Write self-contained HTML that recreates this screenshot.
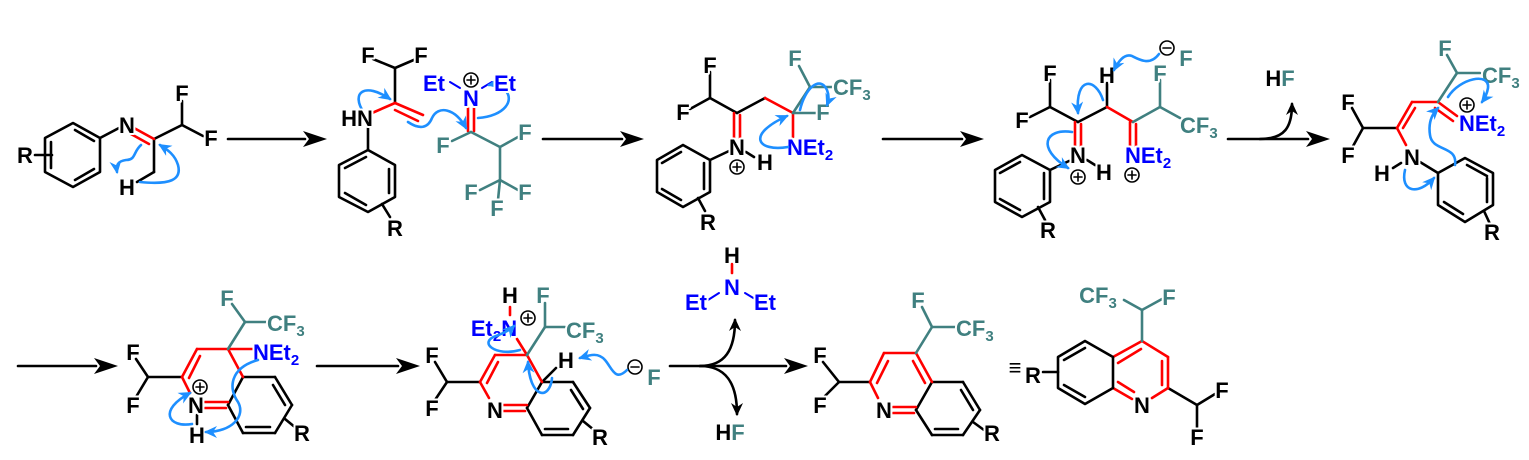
<!DOCTYPE html>
<html><head><meta charset="utf-8"><style>
html,body{margin:0;padding:0;background:#fff;}
svg{display:block;}
text{font-family:"Liberation Sans",Arial,sans-serif;font-weight:bold;font-size:22px;text-anchor:middle;paint-order:stroke;stroke:#fff;stroke-width:4px;transform:translateY(2px);}
.k{fill:#000}.b{fill:#0000ff}.t{fill:#408080}
.s{font-size:15px}
</style></head><body>
<svg width="1529" height="460" viewBox="0 0 1529 460" xmlns="http://www.w3.org/2000/svg">
<defs>
<marker id="bh" markerUnits="userSpaceOnUse" markerWidth="14" markerHeight="12" refX="11" refY="6" orient="auto"><path d="M0,0 L13,6 L0,12 L4,6 z" fill="#1e8fff"/></marker>
<marker id="kh" markerUnits="userSpaceOnUse" markerWidth="14" markerHeight="12" refX="11" refY="6" orient="auto"><path d="M0,0 L13,6 L0,12 L4,6 z" fill="#000"/></marker>
</defs>
<g stroke-width="2.6" fill="none" stroke-linecap="round" stroke-linejoin="round">
<!-- reaction arrows -->
<g stroke="#000">
<line x1="228" y1="139" x2="305" y2="139"/>
<line x1="543" y1="139" x2="622" y2="139"/>
<line x1="883" y1="139" x2="962" y2="139"/>
<line x1="1228" y1="139" x2="1308" y2="139"/>
<path d="M1260,139 C1285,139 1292,127 1292,104" marker-end="url(#kh)"/>
<line x1="18" y1="366" x2="96" y2="366"/>
<line x1="317" y1="366" x2="398" y2="366"/>
<line x1="670" y1="366" x2="786" y2="366"/>
<path d="M700,366 C725,366 735,350 735,320" marker-end="url(#kh)"/>
<path d="M700,366 C725,366 737,382 737,414" marker-end="url(#kh)"/>
</g>
<g fill="#000" stroke="none">
<polygon points="327,139 303,131 309,139 303,147"/>
<polygon points="644,139 620,131 626,139 620,147"/>
<polygon points="984,139 960,131 966,139 960,147"/>
<polygon points="1330,139 1306,131 1312,139 1306,147"/>
<polygon points="118,366 94,358 100,366 94,374"/>
<polygon points="420,366 396,358 402,366 396,374"/>
<polygon points="808,366 784,358 790,366 784,374"/>
</g>

<!-- MOL 1 -->
<g stroke="#000">
<path d="M73,123 L100,138 L100,172 L73,187 L45,172 L45,138 Z"/>
<line x1="75" y1="130" x2="94" y2="141"/><line x1="94" y1="169" x2="75" y2="180"/><line x1="51" y1="142" x2="51" y2="168"/>
<line x1="35" y1="155" x2="52" y2="155"/>
<line x1="100" y1="138" x2="119" y2="128"/>
<line x1="154" y1="139" x2="182" y2="125"/><line x1="182" y1="125" x2="182" y2="101"/><line x1="182" y1="125" x2="203" y2="136"/>
<line x1="154" y1="139" x2="154" y2="172"/><line x1="154" y1="172" x2="137" y2="182"/>
</g>
<g stroke="#f00"><line x1="134" y1="128" x2="154" y2="139"/><line x1="131" y1="134" x2="149" y2="144"/></g>
<g stroke="#1e8fff">
<path d="M141,145 C133,152 136,160 126,160 C118,161 116,165 117,172" marker-end="url(#bh)"/>
<path d="M140,182 C170,185 182,180 178,165 C175,155 168,150 160,145" marker-end="url(#bh)"/>
</g>
<text x="25" y="161" class="k">R</text><text x="127" y="131" class="k">N</text>
<text x="182" y="99" class="k">F</text><text x="211" y="144" class="k">F</text><text x="127" y="193" class="k">H</text>

<!-- MOL 2 -->
<g stroke="#000">
<line x1="373" y1="59" x2="395" y2="68"/><line x1="416" y1="59" x2="395" y2="68"/><line x1="395" y1="68" x2="395" y2="103"/>
<line x1="368" y1="127" x2="368" y2="150"/>
<path d="M368,150 L395,165 L395,197 L368,212 L339,197 L339,165 Z"/>
<line x1="389" y1="169" x2="389" y2="193"/><line x1="366" y1="205" x2="345" y2="193"/><line x1="345" y1="168" x2="366" y2="157"/>
<line x1="382" y1="204" x2="390" y2="217"/>
</g>
<g stroke="#f00"><line x1="372" y1="113" x2="395" y2="103"/><line x1="395" y1="103" x2="423" y2="115"/><line x1="395" y1="110" x2="418" y2="121"/>
<line x1="468" y1="108" x2="468" y2="131"/><line x1="474" y1="108" x2="474" y2="131"/></g>
<g stroke="#00f" stroke-width="2"><line x1="450" y1="82" x2="460" y2="88"/><line x1="482" y1="88" x2="492" y2="82"/></g>
<g stroke="#408080">
<line x1="471" y1="132" x2="452" y2="141"/><line x1="471" y1="132" x2="500" y2="147"/><line x1="500" y1="147" x2="518" y2="137"/>
<line x1="500" y1="147" x2="500" y2="180"/><line x1="500" y1="180" x2="480" y2="190"/><line x1="500" y1="180" x2="518" y2="190"/><line x1="500" y1="180" x2="498" y2="200"/>
</g>
<g stroke="#1e8fff">
<path d="M364,113 C350,92 365,82 390,99" marker-end="url(#bh)"/>
<path d="M408,122 C420,130 428,128 432,118 C438,105 455,108 466,128" marker-end="url(#bh)"/>
<path d="M478,118 C505,116 515,100 505,90 C500,85 494,84 489,85" marker-end="url(#bh)"/>
</g>
<text x="368" y="61" class="k">F</text><text x="421" y="61" class="k">F</text><text x="357" y="124" class="k">HN</text><text x="395" y="234" class="k">R</text>
<text x="434" y="89" class="b">Et</text><text x="471" y="104" class="b">N</text><text x="505" y="89" class="b">Et</text>
<g fill="#fff" stroke="#000" stroke-width="1.6"><circle cx="471" cy="80" r="7"/><line x1="467" y1="80" x2="475" y2="80"/><line x1="471" y1="76" x2="471" y2="84"/></g>
<text x="443" y="151" class="t">F</text><text x="525" y="138" class="t">F</text><text x="471" y="198" class="t">F</text><text x="525" y="198" class="t">F</text><text x="497" y="214" class="t">F</text>

<!-- MOL 3 -->
<g stroke="#000">
<line x1="710" y1="72" x2="710" y2="98"/><line x1="690" y1="109" x2="710" y2="98"/><line x1="710" y1="98" x2="737" y2="113"/><line x1="737" y1="113" x2="765" y2="98"/>
<path d="M683,145 L710,160 L710,192 L683,207 L657,192 L657,160 Z"/>
<line x1="704" y1="163" x2="704" y2="189"/><line x1="681" y1="200" x2="662" y2="189"/><line x1="662" y1="163" x2="681" y2="152"/>
<line x1="710" y1="160" x2="729" y2="151"/><line x1="746" y1="152" x2="754" y2="157"/><line x1="698" y1="198" x2="705" y2="211"/>
</g>
<g stroke="#f00"><line x1="734" y1="113" x2="734" y2="138"/><line x1="740" y1="115" x2="740" y2="138"/><line x1="765" y1="98" x2="793" y2="113"/><line x1="793" y1="113" x2="793" y2="137"/></g>
<g stroke="#408080"><line x1="793" y1="113" x2="810" y2="87"/><line x1="799" y1="66" x2="810" y2="87"/><line x1="810" y1="87" x2="832" y2="87"/><line x1="793" y1="113" x2="816" y2="113"/></g>
<text x="710" y="71" class="k">F</text><text x="683" y="118" class="k">F</text><text x="737" y="153" class="k">N</text><text x="765" y="168" class="k">H</text><text x="708" y="228" class="k">R</text>
<text x="795" y="64" class="t">F</text><text x="823" y="118" class="t">F</text>
<text x="833" y="93" class="t" style="text-anchor:start">CF<tspan class="s" dy="5">3</tspan></text>
<text x="787" y="153" class="b" style="text-anchor:start">NEt<tspan class="s" dy="5">2</tspan></text>
<g fill="#fff" stroke="#000" stroke-width="1.6"><circle cx="737" cy="167" r="7"/><line x1="733" y1="167" x2="741" y2="167"/><line x1="737" y1="163" x2="737" y2="171"/></g>
<g stroke="#1e8fff">
<path d="M788,147 C758,152 745,135 787,116" marker-end="url(#bh)"/>
<path d="M800,110 C805,88 820,75 827,90 C829,95 829,100 827,105" marker-end="url(#bh)"/>
</g>

<!-- MOL 4 -->
<g stroke="#000">
<line x1="1050" y1="80" x2="1050" y2="107"/><line x1="1030" y1="117" x2="1050" y2="107"/><line x1="1050" y1="107" x2="1078" y2="122"/><line x1="1078" y1="122" x2="1107" y2="107"/><line x1="1107" y1="83" x2="1107" y2="107"/>
<path d="M1022,155 L1050,170 L1050,202 L1022,217 L995,202 L995,170 Z"/>
<line x1="1044" y1="173" x2="1044" y2="199"/><line x1="1020" y1="210" x2="1000" y2="199"/><line x1="1000" y1="173" x2="1020" y2="162"/>
<line x1="1050" y1="170" x2="1069" y2="161"/><line x1="1087" y1="160" x2="1095" y2="165"/><line x1="1038" y1="207" x2="1045" y2="220"/>
</g>
<g stroke="#f00"><line x1="1075" y1="122" x2="1075" y2="146"/><line x1="1081" y1="124" x2="1081" y2="146"/><line x1="1107" y1="107" x2="1133" y2="122"/><line x1="1130" y1="122" x2="1130" y2="146"/><line x1="1136" y1="124" x2="1136" y2="146"/></g>
<g stroke="#408080"><line x1="1133" y1="122" x2="1160" y2="107"/><line x1="1160" y1="107" x2="1160" y2="80"/><line x1="1160" y1="107" x2="1180" y2="118"/></g>
<text x="1050" y="79" class="k">F</text><text x="1022" y="126" class="k">F</text><text x="1078" y="161" class="k">N</text><text x="1104" y="178" class="k">H</text><text x="1107" y="81" class="k">H</text><text x="1048" y="236" class="k">R</text>
<text x="1160" y="79" class="t">F</text><text x="1186" y="64" class="t">F</text>
<text x="1180" y="131" class="t" style="text-anchor:start">CF<tspan class="s" dy="5">3</tspan></text>
<text x="1125" y="161" class="b" style="text-anchor:start">NEt<tspan class="s" dy="5">2</tspan></text>
<text x="1280" y="84" class="k">H<tspan class="t">F</tspan></text>
<g fill="#fff" stroke="#000" stroke-width="1.6">
<circle cx="1078" cy="177" r="7"/><line x1="1074" y1="177" x2="1082" y2="177"/><line x1="1078" y1="173" x2="1078" y2="181"/>
<circle cx="1132" cy="175" r="7"/><line x1="1128" y1="175" x2="1136" y2="175"/><line x1="1132" y1="171" x2="1132" y2="179"/>
<circle cx="1167" cy="48" r="7"/><line x1="1163" y1="48" x2="1171" y2="48"/>
</g>
<g stroke="#1e8fff">
<path d="M1159,54 C1150,66 1140,60 1132,56 C1124,53 1118,62 1114,70" marker-end="url(#bh)"/>
<path d="M1103,100 C1096,78 1075,75 1078,113" marker-end="url(#bh)"/>
<path d="M1072,132 C1045,128 1036,148 1068,168" marker-end="url(#bh)"/>
</g>

<!-- MOL 5 -->
<g stroke="#000">
<line x1="1352" y1="108" x2="1363" y2="128"/><line x1="1352" y1="148" x2="1363" y2="128"/><line x1="1363" y1="128" x2="1397" y2="128"/>
<path d="M1438,173 L1465,158 L1493,173 L1493,205 L1465,222 L1438,205 Z"/>
<line x1="1467" y1="165" x2="1487" y2="176"/><line x1="1487" y1="178" x2="1487" y2="202"/><line x1="1444" y1="202" x2="1463" y2="214"/>
<line x1="1420" y1="162" x2="1438" y2="173"/><line x1="1393" y1="168" x2="1401" y2="163"/><line x1="1484" y1="211" x2="1490" y2="224"/>
</g>
<g stroke="#f00"><line x1="1397" y1="128" x2="1412" y2="102"/><line x1="1403" y1="128" x2="1415" y2="108"/><line x1="1412" y1="102" x2="1438" y2="102"/><line x1="1438" y1="102" x2="1457" y2="116"/><line x1="1435" y1="108" x2="1453" y2="121"/><line x1="1397" y1="128" x2="1406" y2="145"/></g>
<g stroke="#408080"><line x1="1438" y1="102" x2="1457" y2="73"/><line x1="1457" y1="73" x2="1447" y2="55"/><line x1="1457" y1="73" x2="1480" y2="73"/></g>
<text x="1348" y="108" class="k">F</text><text x="1348" y="161" class="k">F</text><text x="1412" y="163" class="k">N</text><text x="1382" y="179" class="k">H</text><text x="1492" y="238" class="k">R</text>
<text x="1445" y="54" class="t">F</text>
<text x="1482" y="81" class="t" style="text-anchor:start">CF<tspan class="s" dy="5">3</tspan></text>
<text x="1459" y="129" class="b" style="text-anchor:start">NEt<tspan class="s" dy="5">2</tspan></text>
<g fill="#fff" stroke="#000" stroke-width="1.6"><circle cx="1467" cy="105" r="7"/><line x1="1463" y1="105" x2="1471" y2="105"/><line x1="1467" y1="101" x2="1467" y2="109"/></g>
<g stroke="#1e8fff">
<path d="M1405,170 C1400,192 1418,196 1434,178" marker-end="url(#bh)"/>
<path d="M1455,165 C1458,145 1432,152 1430,135 C1428,122 1432,114 1438,108" marker-end="url(#bh)"/>
<path d="M1448,97 C1460,78 1490,72 1488,88 C1487,94 1485,98 1482,102" marker-end="url(#bh)"/>
</g>

<!-- MOL 6 -->
<g stroke="#000">
<line x1="136" y1="359" x2="148" y2="377"/><line x1="136" y1="397" x2="148" y2="377"/><line x1="148" y1="377" x2="182" y2="377"/>
<line x1="243" y1="377" x2="275" y2="377"/><line x1="275" y1="377" x2="292" y2="405"/><line x1="292" y1="405" x2="275" y2="433"/><line x1="275" y1="433" x2="243" y2="433"/><line x1="243" y1="433" x2="228" y2="405"/><line x1="228" y1="405" x2="243" y2="377"/>
<line x1="273" y1="385" x2="285" y2="405"/><line x1="270" y1="427" x2="246" y2="427"/>
<line x1="197" y1="415" x2="197" y2="424"/><line x1="285" y1="419" x2="296" y2="428"/>
</g>
<g stroke="#f00"><line x1="182" y1="377" x2="197" y2="349"/><line x1="189" y1="378" x2="200" y2="356"/><line x1="197" y1="349" x2="228" y2="349"/><line x1="228" y1="349" x2="243" y2="377"/><line x1="228" y1="349" x2="253" y2="349"/><line x1="182" y1="377" x2="190" y2="393"/><line x1="205" y1="402" x2="228" y2="402"/><line x1="205" y1="408" x2="226" y2="408"/></g>
<g stroke="#408080"><line x1="228" y1="349" x2="245" y2="322"/><line x1="245" y1="322" x2="232" y2="304"/><line x1="245" y1="322" x2="266" y2="322"/></g>
<text x="133" y="358" class="k">F</text><text x="133" y="411" class="k">F</text><text x="196" y="411" class="k">N</text><text x="197" y="441" class="k">H</text><text x="302" y="439" class="k">R</text>
<text x="227" y="304" class="t">F</text>
<text x="267" y="329" class="t" style="text-anchor:start">CF<tspan class="s" dy="5">3</tspan></text>
<text x="253" y="358" class="b" style="text-anchor:start">NEt<tspan class="s" dy="5">2</tspan></text>
<g fill="#fff" stroke="#000" stroke-width="1.6"><circle cx="200" cy="387" r="7"/><line x1="196" y1="387" x2="204" y2="387"/><line x1="200" y1="383" x2="200" y2="391"/></g>
<g stroke="#1e8fff">
<path d="M192,424 C168,428 158,410 190,393" marker-end="url(#bh)"/>
<path d="M258,360 C230,368 228,388 238,402 C246,416 232,432 206,432" marker-end="url(#bh)"/>
</g>

<!-- MOL 7 -->
<g stroke="#000">
<line x1="435" y1="362" x2="447" y2="382"/><line x1="435" y1="400" x2="447" y2="382"/><line x1="447" y1="382" x2="480" y2="382"/>
<line x1="542" y1="382" x2="573" y2="382"/><line x1="573" y1="382" x2="590" y2="408"/><line x1="590" y1="408" x2="573" y2="435"/><line x1="573" y1="435" x2="542" y2="435"/><line x1="542" y1="435" x2="527" y2="408"/><line x1="527" y1="408" x2="542" y2="382"/>
<line x1="571" y1="390" x2="583" y2="409"/><line x1="568" y1="429" x2="545" y2="429"/>
<line x1="542" y1="382" x2="556" y2="368"/><line x1="583" y1="421" x2="594" y2="430"/>
</g>
<g stroke="#f00"><line x1="480" y1="382" x2="495" y2="355"/><line x1="487" y1="383" x2="498" y2="362"/><line x1="495" y1="355" x2="527" y2="355"/><line x1="527" y1="355" x2="542" y2="382"/><line x1="527" y1="355" x2="517" y2="339"/><line x1="480" y1="382" x2="489" y2="398"/><line x1="503" y1="405" x2="527" y2="405"/><line x1="503" y1="411" x2="525" y2="411"/><line x1="510" y1="307" x2="510" y2="315"/></g>
<g stroke="#408080"><line x1="527" y1="355" x2="545" y2="327"/><line x1="545" y1="327" x2="545" y2="303"/><line x1="545" y1="327" x2="565" y2="327"/></g>
<text x="432" y="361" class="k">F</text><text x="432" y="414" class="k">F</text><text x="495" y="416" class="k">N</text><text x="600" y="443" class="k">R</text><text x="566" y="366" class="k">H</text><text x="510" y="301" class="k">H</text>
<text x="494" y="334" class="b">Et<tspan class="s" dy="5">2</tspan><tspan dy="-5">N</tspan></text>
<text x="543" y="301" class="t">F</text>
<text x="566" y="336" class="t" style="text-anchor:start">CF<tspan class="s" dy="5">3</tspan></text>
<text x="654" y="383" class="t">F</text>
<g fill="#fff" stroke="#000" stroke-width="1.6">
<circle cx="528" cy="318" r="7"/><line x1="524" y1="318" x2="532" y2="318"/><line x1="528" y1="314" x2="528" y2="322"/>
<circle cx="635" cy="367" r="7"/><line x1="631" y1="367" x2="639" y2="367"/>
</g>
<g stroke="#1e8fff">
<path d="M520,350 C495,357 478,342 496,336 C504,333 510,330 514,326" marker-end="url(#bh)"/>
<path d="M552,378 C550,400 530,400 528,362" marker-end="url(#bh)"/>
<path d="M627,370 C615,382 612,368 605,360 C598,352 590,355 580,358" marker-end="url(#bh)"/>
</g>

<!-- Et2NH and HF -->
<g stroke="#00f" stroke-width="2"><line x1="708" y1="300" x2="719" y2="293"/><line x1="745" y1="293" x2="755" y2="299"/></g>
<line x1="732" y1="264" x2="732" y2="273" stroke="#f00"/>
<text x="732" y="261" class="k">H</text><text x="732" y="293" class="b">N</text><text x="696" y="308" class="b">Et</text><text x="765" y="308" class="b">Et</text>
<text x="730" y="438" class="k">H<tspan class="t">F</tspan></text>

<!-- MOL 8 -->
<g stroke="#000">
<line x1="823" y1="362" x2="839" y2="382"/><line x1="823" y1="398" x2="839" y2="382"/><line x1="839" y1="382" x2="870" y2="382"/>
<line x1="932" y1="382" x2="963" y2="382"/><line x1="963" y1="382" x2="980" y2="410"/><line x1="980" y1="410" x2="963" y2="435"/><line x1="963" y1="435" x2="932" y2="435"/><line x1="932" y1="435" x2="916" y2="410"/>
<line x1="961" y1="390" x2="973" y2="410"/><line x1="958" y1="429" x2="935" y2="429"/><line x1="973" y1="422" x2="984" y2="430"/>
<line x1="916" y1="410" x2="932" y2="382"/>
</g>
<g stroke="#f00"><line x1="870" y1="382" x2="884" y2="353"/><line x1="877" y1="383" x2="888" y2="361"/><line x1="884" y1="353" x2="916" y2="353"/><line x1="916" y1="353" x2="932" y2="382"/><line x1="913" y1="361" x2="925" y2="383"/><line x1="870" y1="382" x2="878" y2="398"/><line x1="893" y1="407" x2="916" y2="407"/><line x1="893" y1="413" x2="914" y2="413"/></g>
<g stroke="#408080"><line x1="916" y1="353" x2="932" y2="327"/><line x1="932" y1="327" x2="922" y2="307"/><line x1="932" y1="327" x2="955" y2="327"/></g>
<text x="820" y="361" class="k">F</text><text x="820" y="411" class="k">F</text><text x="884" y="416" class="k">N</text><text x="992" y="439" class="k">R</text>
<text x="918" y="306" class="t">F</text>
<text x="956" y="334" class="t" style="text-anchor:start">CF<tspan class="s" dy="5">3</tspan></text>

<!-- MOL 9 -->
<g stroke="#000">
<path d="M1113,357 L1085,341 L1058,357 L1058,388 L1085,404 L1113,388"/>
<line x1="1085" y1="348" x2="1064" y2="360"/><line x1="1064" y1="385" x2="1085" y2="397"/>
<line x1="1043" y1="372" x2="1058" y2="372"/>
<line x1="1168" y1="388" x2="1197" y2="405"/><line x1="1197" y1="405" x2="1215" y2="394"/><line x1="1197" y1="405" x2="1197" y2="428"/>
</g>
<g stroke="#f00"><line x1="1113" y1="357" x2="1142" y2="341"/><line x1="1118" y1="363" x2="1141" y2="349"/><line x1="1142" y1="341" x2="1168" y2="357"/><line x1="1168" y1="357" x2="1168" y2="388"/><line x1="1162" y1="361" x2="1162" y2="385"/><line x1="1168" y1="388" x2="1152" y2="398"/><line x1="1113" y1="388" x2="1132" y2="399"/><line x1="1118" y1="382" x2="1134" y2="392"/></g>
<line x1="1113" y1="357" x2="1113" y2="388" stroke="#000"/>
<g stroke="#408080"><line x1="1142" y1="341" x2="1142" y2="310"/><line x1="1142" y1="310" x2="1162" y2="299"/><line x1="1142" y1="310" x2="1124" y2="300"/></g>
<text x="1015" y="373" class="k">≡</text>
<text x="1033" y="381" class="k">R</text><text x="1142" y="411" class="k">N</text><text x="1222" y="396" class="k">F</text><text x="1197" y="443" class="k">F</text>
<text x="1169" y="303" class="t">F</text>
<text x="1098" y="301" class="t">CF<tspan class="s" dy="5">3</tspan></text>
</g>
</svg>
</body></html>
